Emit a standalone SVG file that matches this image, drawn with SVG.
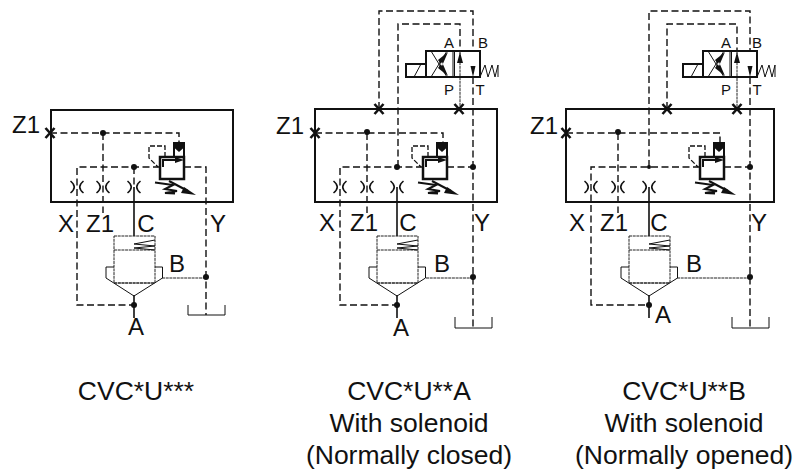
<svg xmlns="http://www.w3.org/2000/svg" width="803" height="471" viewBox="0 0 803 471">
<style>
text{font-family:"Liberation Sans",Arial,sans-serif;fill:#111;text-anchor:middle}
.l{font-size:24px}.s{font-size:15px}.c{font-size:26.500px}
.d{fill:none;stroke:#111;stroke-width:1.4;stroke-dasharray:7 3.500}
.n{fill:none;stroke:#111;stroke-width:1}
.k{fill:none;stroke:#111;stroke-width:1.600}
.m{fill:none;stroke:#111;stroke-width:2}
.t{fill:none;stroke:#111;stroke-width:2.500}
.f{fill:#111}
.b{fill:none;stroke:#222;stroke-width:1;stroke-dasharray:3 .7}
.p{fill:none;stroke:#111;stroke-width:1.300;stroke-dasharray:5 2}
</style>
<defs>
<path id="x" d="M-4.500-5L4.500 5M4.500-5L-4.500 5" fill="none" stroke="#111" stroke-width="2.600"/>
<path id="choke" d="M-6.500-6Q1 0-6.500 6M6.500-6Q-1 0 6.500 6" class="k"/>
<circle id="dot" r="3" class="f"/>
<g id="relief">
<rect x="0" y="0" width="24" height="22" class="t"/>
<path d="M14 0V-14H24V0" class="m"/>
<path d="M14.500-14H23.500V-9L19-5L14.500-9Z" class="f"/>
<path d="M3 10V3H18" class="m"/><path d="M15 0L24 3L15 6Z" class="f"/>
<path d="M5 0V-11H-11V1L-2 10" class="p"/>
<path d="M-5 25.500L13 28L5 32L17 34L5 36L15 36.500" class="m"/><path d="M9 24L28 34" class="m"/><path d="M24 30L36 38L21 36Z" class="f"/>
</g>
<g id="valve">
<rect x="0" y="0" width="41" height="47" class="b"/>
<path d="M0 14H41M0 47H41" class="b"/>
<path d="M41 4L20 8L41 10L20 12L41 14" class="n"/>
<path d="M0 31H-8V42L20 60L48.500 42V31H41" class="n"/>
</g>
<g id="sol">
<rect x="0" y="0" width="54" height="26" class="m"/>
<path d="M27 0V26M28.500 0V26" class="n"/>
<path d="M5 0L21 26M5 26L21 0" class="n"/>
<path d="M22 1L12 9L16 15ZM22 25L12 17L16 11Z" class="f"/>
<path d="M34 0V26" class="b"/><path d="M31 12L34 1L37 12Z" class="f"/>
<path d="M44.500 15L47 26L49.500 15Z" class="f"/>
<rect x="-20" y="13" width="20" height="13" class="m"/>
<path d="M-12 26L-5 13" class="n"/>
<path d="M54 26L59 14L62 26L66 14L69 26L72 14V26" class="n"/>
</g>
</defs>

<g id="connectors">
<path class="d" d="M50 133H179V142M103 133V213M160 167H77V305H134M184 167H206V315"/>
<path class="k" d="M134 187V236M134 295V318"/><path class="d" d="M134 167V187"/>
<path class="b" d="M162 278H206"/>
<path class="n" d="M188 305V315H225V305"/>

<path class="d" d="M315 133H443V142M367 133V213M423 167H340V305H397M447 167H473V328M379 109V11H473V51M473 77V167M398 167V24H460V51"/>
<path class="b" d="M460 77V109"/>
<path class="k" d="M397 187V236M397 295V318"/>
<path class="b" d="M426 278H473"/>
<path class="n" d="M455 317V328H492V317"/>

<path class="d" d="M566 133H720V142M618 133V213M700 167H591V305H649M724 167H750V328M649 167V11H750V51M750 77V167M667 109V24H737V51"/>
<path class="b" d="M737 78V109"/>
<path class="k" d="M649 187V236M649 295V318"/>
<path class="b" d="M677 278H750"/>
<path class="n" d="M732 317V328H769V317"/>
</g>

<g id="panel1">
<rect x="51" y="110" width="182" height="92" class="m"/>
<use href="#x" x="50" y="133"/><use href="#dot" x="103" y="133"/><use href="#dot" x="134" y="167"/><use href="#dot" x="134" y="305"/><use href="#dot" x="206" y="277"/>
<use href="#choke" x="77" y="187"/><use href="#choke" x="103" y="187"/><use href="#choke" x="134" y="187"/>
<use href="#relief" x="160" y="157"/><use href="#valve" x="114" y="236"/>
<text class="l" x="26" y="133">Z1</text><text class="l" x="66" y="232">X</text><text class="l" x="100" y="232">Z1</text><text class="l" x="146" y="232">C</text><text class="l" x="218" y="232">Y</text><text class="l" x="177" y="272">B</text><text class="l" x="136" y="335">A</text>
<text class="c" x="136" y="400">CVC*U***</text>
</g>

<g id="panel2">
<rect x="315" y="109" width="182" height="93" class="m"/>
<use href="#x" x="315" y="133"/><use href="#x" x="379" y="109"/><use href="#x" x="459" y="109"/><use href="#dot" x="367" y="132"/><use href="#dot" x="397" y="167"/><use href="#dot" x="473" y="167"/><use href="#dot" x="397" y="305"/><use href="#dot" x="473" y="277"/>
<use href="#choke" x="340" y="187"/><use href="#choke" x="367" y="187"/><use href="#choke" x="397" y="187"/>
<use href="#relief" x="423" y="157"/><use href="#valve" x="377" y="236"/><use href="#sol" x="426" y="51"/>
<text class="s" x="449" y="48">A</text><text class="s" x="483" y="48">B</text><text class="s" x="449" y="95">P</text><text class="s" x="480" y="95">T</text>
<text class="l" x="290" y="134">Z1</text><text class="l" x="327" y="231">X</text><text class="l" x="364" y="231">Z1</text><text class="l" x="408" y="231">C</text><text class="l" x="482" y="231">Y</text><text class="l" x="442" y="272">B</text><text class="l" x="401" y="336">A</text>
<text class="c" x="409" y="400">CVC*U**A</text><text class="c" x="409" y="432">With solenoid</text><text class="c" x="409" y="464">(Normally closed)</text>
</g>

<g id="panel3">
<rect x="566" y="109" width="208" height="93" class="m"/>
<use href="#x" x="566" y="133"/><use href="#x" x="667" y="109"/><use href="#x" x="737" y="109"/><use href="#dot" x="618" y="132"/><circle cx="649" cy="167" r="2" class="f"/><use href="#dot" x="750" y="167"/><use href="#dot" x="649" y="305"/><use href="#dot" x="750" y="277"/>
<use href="#choke" x="591" y="187"/><use href="#choke" x="618" y="187"/><use href="#choke" x="649" y="187"/>
<use href="#relief" x="700" y="157"/><use href="#valve" x="629" y="236"/><use href="#sol" x="703" y="51"/>
<text class="s" x="726" y="48">A</text><text class="s" x="757" y="48">B</text><text class="s" x="726" y="95">P</text><text class="s" x="757" y="95">T</text>
<text class="l" x="544" y="134">Z1</text><text class="l" x="577" y="231">X</text><text class="l" x="614" y="231">Z1</text><text class="l" x="659" y="231">C</text><text class="l" x="759" y="231">Y</text><text class="l" x="694" y="272">B</text><text class="l" x="663" y="323">A</text>
<text class="c" x="684" y="400">CVC*U**B</text><text class="c" x="684" y="432">With solenoid</text><text class="c" x="684" y="464">(Normally opened)</text>
</g>
</svg>
